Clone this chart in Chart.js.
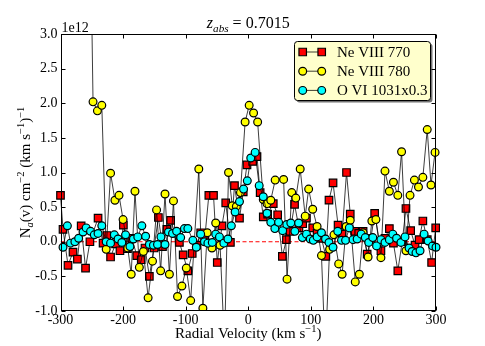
<!DOCTYPE html>
<html><head><meta charset="utf-8">
<script src="https://cdn.jsdelivr.net/npm/chart.js@4.4.1/dist/chart.umd.min.js"></script>
<style>html,body{margin:0;padding:0;background:#fff}#wrap{width:485px;height:346px;position:relative}</style>
</head><body><div id="wrap"><canvas id="c"></canvas></div>
<script>
// ---- data (column density in units of 1e12) ----
const seriesLabels = ['Ne VIII 770', 'Ne VIII 780', 'O VI 1031x0.3'];
const velocityTicks = [-300, -200, -100, 0, 100, 200, 300];
const densityTicks = [-1.0, -0.5, 0.0, 0.5, 1.0, 1.5, 2.0, 2.5, 3.0];
const xRange = [-300, 300];
const yRange = [-1, 3];
const offsetExponent = '1e12';
const zeroLevel = 0;

const ne770Vel = [-300,-296,-288,-280,-273,-267,-260,-253,-240,-232,-226,-220,-212,-205,-199.5,-193,-186,-178,-171,-165,-158,-150.5,-143.6,-137,-130,-124,-117,-110,-104,-96.5,-89.5,-82.5,-76,-69.5,-63,-55.5,-49.5,-42,-36,-28.5,-22,-14,-8,-2,7,14,19,24,31,40,47,54.5,61,67,74,81,87,93,103,110,117,124,129,135.5,143.5,150,157,163,170,176.5,183.5,190,196,202,212,218.5,225.5,232,239,246,252,259.5,266.5,273,279,286,293,299.5];
const ne770N = [0.67,0.18,-0.34,-0.15,-0.25,0.23,-0.38,0.00,0.34,-0.02,0.09,-0.22,-0.03,-0.13,0.24,-0.10,0.05,-0.20,-0.26,-0.09,-0.50,-0.09,0.35,-0.07,0.18,0.31,0.12,-0.01,-0.19,-0.42,-0.17,-0.05,0.13,0.05,0.67,0.67,-0.30,0.23,0.56,-0.01,0.81,0.34,0.72,1.11,1.16,1.23,0.71,0.36,0.40,0.55,0.39,-0.21,0.03,0.15,0.54,0.20,0.26,0.34,0.20,0.12,0.05,-0.21,0.60,0.85,0.24,0.11,1.00,0.40,0.15,0.12,0.15,-0.18,0.05,0.41,-0.13,0.05,0.19,-0.02,-0.42,0.00,0.48,0.16,-0.05,0.03,0.30,0.03,-0.30,0.20];

const ne780Vel = [-255,-248,-241,-234,-227,-220,-213,-206.5,-200,-192.5,-187,-181,-174,-167.5,-160,-153,-146.5,-140,-133,-126,-119.5,-113,-106,-99,-92,-79,-72.5,-65.5,-58,-52,-45,-38,-31.5,-25.5,-19,-12.5,-5,1.5,8.5,15,24,30,36,43,56.5,62,69.5,76,83,91,96.5,103,110,117,123,130,137,144.5,150,156.5,163,171,177.5,183.5,191.5,197.5,204,212,218.5,225.5,232,239,245,252,258.5,265.5,272,279,286,292,298.5];
const ne780N = [6.3,2.02,1.89,1.97,-0.11,0.99,0.60,0.67,0.32,-0.09,-0.47,0.73,-0.37,-0.14,-0.81,-0.28,0.46,-0.42,0.69,-0.47,0.59,-0.79,-0.64,-0.38,-0.85,1.05,-0.96,0.13,-0.09,0.27,-0.05,-1.5,1.00,0.52,0.51,0.71,1.73,1.97,1.86,1.73,0.61,0.55,0.60,0.89,0.90,-0.54,0.71,0.63,1.05,0.37,0.76,0.47,0.22,-0.20,-1.6,-0.11,0.10,-0.32,-0.47,0.22,0.31,-0.58,-0.47,0.13,-0.22,0.30,0.32,-0.23,1.02,0.73,0.86,0.67,1.30,-0.13,0.67,0.89,0.79,0.93,1.62,0.82,1.29];

const ovi1031Vel = [-296,-289,-284,-277,-271,-264,-259,-252,-246,-240,-234,-227,-220,-214,-208,-202,-196,-189,-183.5,-176.5,-170,-164,-158,-151.5,-145,-139.5,-133,-127.5,-121,-114.5,-108,-102,-96.5,-88.5,-83,-76,-70,-64.5,-57.5,-52,-46,-39,-32.5,-27,-21,-14,-7.5,-1.5,4,11,17.5,24,30,36,42.5,48.5,55,61.5,68,74.5,80.5,86.5,93,99,104,110,117,123.5,129,135.5,143,149,155.5,161.5,167.5,174,180.5,187,192.5,199,205,212,218.5,225.5,231,237,244,250.5,257,262,268,274.5,281,287.5,294.5,300];
const ovi1031N = [-0.08,0.23,-0.02,0.00,0.05,0.14,0.20,0.15,0.10,0.12,0.23,0.00,-0.02,0.10,0.04,-0.01,0.10,-0.07,0.04,0.07,0.23,0.08,-0.04,-0.05,-0.04,0.07,-0.04,0.14,0.12,0.15,0.06,0.19,0.19,0.02,-0.08,0.11,0.00,-0.02,-0.01,0.11,0.07,-0.02,0.04,0.23,0.43,0.58,0.76,0.88,1.21,1.29,0.81,0.65,0.41,0.28,0.19,0.28,0.16,0.25,0.27,0.15,0.27,0.06,0.11,0.04,0.02,0.07,0.13,0.04,-0.01,-0.08,0.15,0.02,0.02,0.20,0.03,0.04,0.11,0.06,-0.01,0.06,-0.06,0.03,-0.01,0.03,0.11,0.05,-0.01,0.07,-0.09,-0.14,-0.16,-0.13,0.11,0.01,-0.06,-0.08];

// ---- styling ----
const SERIF = '"Liberation Serif", "DejaVu Serif", serif';
const styles = [
  {fill:'#ff0000', shape:'rect', r:5.3},
  {fill:'#ffff00', shape:'circle', r:3.9},
  {fill:'#00ffff', shape:'circle', r:3.9}
];
const toPts = (v, n) => v.map((x, i) => ({x: x, y: n[i]}));
const seriesData = [toPts(ne770Vel, ne770N), toPts(ne780Vel, ne780N), toPts(ovi1031Vel, ovi1031N)];

const datasets = seriesData.map((d, i) => ({
  label: seriesLabels[i],
  data: d,
  borderColor: 'rgba(0,0,0,0.85)',
  borderWidth: 0.9,
  pointStyle: styles[i].shape,
  pointRadius: styles[i].r,
  pointHoverRadius: styles[i].r,
  pointBackgroundColor: styles[i].fill,
  pointBorderColor: '#000',
  pointBorderWidth: 1.2,
  tension: 0,
  fill: false,
  order: 3 - i,
  clip: {left: 5, right: 5, top: 0, bottom: 0}
}));

function drawRich(ctx, segs, x, y, size) {
  const parts = segs.map(s => {
    const fs = (s.sub || s.sup) ? size * 0.7 : size;
    const font = (s.it ? 'italic ' : '') + fs + 'px ' + SERIF;
    ctx.font = font;
    return {t: s.t, font, w: ctx.measureText(s.t).width, dy: s.sub ? size * 0.22 : (s.sup ? -size * 0.4 : 0)};
  });
  const total = parts.reduce((a, p) => a + p.w, 0);
  let cx = x - total / 2;
  ctx.textAlign = 'left';
  ctx.textBaseline = 'alphabetic';
  parts.forEach(p => { ctx.font = p.font; ctx.fillText(p.t, cx, y + p.dy); cx += p.w; });
}

function drawMarker(ctx, st, x, y) {
  ctx.beginPath();
  if (st.shape === 'rect') {
    const s = st.r * Math.SQRT1_2;
    ctx.rect(x - s, y - s, 2 * s, 2 * s);
  } else {
    ctx.arc(x, y, st.r, 0, Math.PI * 2);
  }
  ctx.fillStyle = st.fill; ctx.fill();
  ctx.lineWidth = 1.2; ctx.strokeStyle = '#000'; ctx.stroke();
}

const deco = {
  id: 'deco',
  beforeDatasetsDraw(chart) {
    const {ctx, chartArea: a, scales: {x, y}} = chart;
    const y0 = y.getPixelForValue(zeroLevel);
    ctx.save();
    ctx.beginPath(); ctx.rect(a.left, a.top, a.right - a.left, a.bottom - a.top); ctx.clip();
    ctx.strokeStyle = '#ff0000'; ctx.lineWidth = 1; ctx.setLineDash([4, 2.5]);
    ctx.beginPath();
    ctx.moveTo(x.getPixelForValue(xRange[0]), y0);
    ctx.lineTo(x.getPixelForValue(xRange[1]), y0);
    ctx.stroke();
    ctx.restore();
  },
  afterDraw(chart) {
    const {ctx, chartArea: a, scales: {x, y}} = chart;
    ctx.save();
    ctx.strokeStyle = '#000'; ctx.lineWidth = 1;
    const L = Math.round(a.left) + 0.5, R = Math.round(a.right) - 0.5, T = Math.round(a.top) + 0.5, B = Math.round(a.bottom) - 0.5;
    ctx.strokeRect(L, T, R - L, B - T);
    const tl = 4;
    ctx.beginPath();
    velocityTicks.forEach(v => {
      const px = Math.round(x.getPixelForValue(v)) + 0.5;
      ctx.moveTo(px, B); ctx.lineTo(px, B - tl);
      ctx.moveTo(px, T); ctx.lineTo(px, T + tl);
    });
    densityTicks.forEach(v => {
      const py = Math.round(y.getPixelForValue(v)) + 0.5;
      ctx.moveTo(L, py); ctx.lineTo(L + tl, py);
      ctx.moveTo(R, py); ctx.lineTo(R - tl, py);
    });
    ctx.stroke();
    ctx.fillStyle = '#000';
    ctx.font = '14px ' + SERIF; ctx.textAlign = 'left'; ctx.textBaseline = 'alphabetic';
    ctx.fillText(offsetExponent, a.left + 1, a.top - 2);
    const cxm = (a.left + a.right) / 2;
    drawRich(ctx, [{t: 'z', it: true}, {t: 'abs', it: true, sub: true}, {t: ' = 0.7015'}], cxm, 28, 16);
    drawRich(ctx, [{t: 'Radial Velocity (km s'}, {t: '\u22121', sup: true}, {t: ')'}], cxm, 338, 15);
    ctx.save();
    ctx.translate(30, (a.top + a.bottom) / 2);
    ctx.rotate(-Math.PI / 2);
    drawRich(ctx, [{t: 'N'}, {t: 'a', it: true, sub: true}, {t: '(v) cm'}, {t: '\u22122', sup: true}, {t: ' (km s'}, {t: '\u22121', sup: true}, {t: ')'}, {t: '\u22121', sup: true}], 0, 0, 15);
    ctx.restore();
    // legend
    const lx = 294.5, ly = 41.5, lw = 136, lh = 59, rad = 3;
    const rr = (x0, y0) => { ctx.beginPath(); ctx.roundRect(x0, y0, lw, lh, rad); };
    rr(lx + 2, ly + 2); ctx.fillStyle = 'rgba(0,0,0,0.55)'; ctx.fill();
    rr(lx, ly); ctx.fillStyle = '#ffffcc'; ctx.fill(); ctx.strokeStyle = '#000'; ctx.lineWidth = 1; ctx.stroke();
    seriesLabels.forEach((lab, i) => {
      const ry = 52 + i * 19.2;
      ctx.beginPath(); ctx.moveTo(302.7, ry); ctx.lineTo(321.7, ry);
      ctx.strokeStyle = 'rgba(0,0,0,0.85)'; ctx.lineWidth = 0.9; ctx.stroke();
      drawMarker(ctx, styles[i], 302.7, ry);
      drawMarker(ctx, styles[i], 321.7, ry);
      ctx.fillStyle = '#000'; ctx.font = '15px ' + SERIF; ctx.textAlign = 'left'; ctx.textBaseline = 'alphabetic';
      ctx.fillText(lab, 337, ry + 5);
    });
    ctx.restore();
  }
};

new Chart(document.getElementById('c'), {
  type: 'line',
  data: {datasets},
  options: {
    responsive: true,
    maintainAspectRatio: false,
    animation: false,
    devicePixelRatio: 1,
    layout: {padding: {left: 0, right: 49, top: 34, bottom: 0}},
    plugins: {legend: {display: false}, tooltip: {enabled: false}, title: {display: false}},
    scales: {
      x: {
        type: 'linear', min: xRange[0], max: xRange[1],
        afterBuildTicks: s => { s.ticks = velocityTicks.map(v => ({value: v})); },
        afterFit: s => { s.height = 35; },
        grid: {display: false, drawTicks: false}, border: {display: false},
        ticks: {color: '#000', padding: 1, maxRotation: 0, font: {family: SERIF, size: 14},
          callback: v => (v < 0 ? '-' : '') + Math.abs(v)}
      },
      y: {
        type: 'linear', min: yRange[0], max: yRange[1],
        afterBuildTicks: s => { s.ticks = densityTicks.map(v => ({value: v})); },
        afterFit: s => { s.width = 60.5; },
        grid: {display: false, drawTicks: false}, border: {display: false},
        ticks: {color: '#000', padding: 3, font: {family: SERIF, size: 14},
          callback: v => (v < 0 ? '-' : '') + Math.abs(v).toFixed(1)}
      }
    }
  },
  plugins: [deco]
});
</script>
</body></html>
